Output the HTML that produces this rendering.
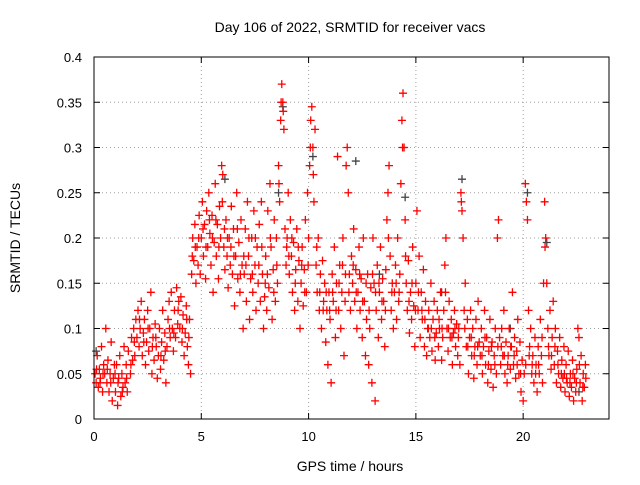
<!DOCTYPE html>
<html><head><meta charset="utf-8"><style>
body{margin:0;background:#fff}
svg{font-family:"Liberation Sans",sans-serif}
</style></head><body>
<svg id="chart" width="640" height="480" xmlns="http://www.w3.org/2000/svg">
<rect width="640" height="480" fill="#fff"/>
<g id="grid"></g>
<g id="ticks"></g>
<g id="grey"></g>
<g id="red"></g>
<rect x="94" y="57" width="515" height="362" fill="none" stroke="#000" stroke-width="1"/>
<text x="350" y="32" font-size="14" text-anchor="middle">Day 106 of 2022, SRMTID for receiver vacs</text>
<text x="350" y="471" font-size="14" text-anchor="middle">GPS time / hours</text>
<text x="0" y="0" font-size="14" text-anchor="middle" transform="translate(20,238) rotate(-90)">SRMTID / TECUs</text>
</svg>
<script>
const xTicks=[0,5,10,15,20];
const yTicks=[0,0.05,0.1,0.15,0.2,0.25,0.3,0.35,0.4];
const yTickLabels=["0","0.05","0.1","0.15","0.2","0.25","0.3","0.35","0.4"];
const redSeries=[
[0.05,.05],[0.1,.04],[0.15,.07],[0.2,.035],[0.25,.055],[0.3,.045],[0.35,.08],[0.4,.03],[0.45,.06],[0.5,.05],[0.55,.1],[0.6,.04],[0.65,.065],[0.7,.03],[0.75,.05],[0.8,.085],[0.85,.02],[0.9,.045],[0.95,.06],
[1.0,.03],[1.05,.06],[1.1,.015],[1.15,.045],[1.2,.07],[1.25,.025],[1.3,.05],[1.35,.035],[1.4,.08],[1.45,.04],[1.5,.06],[1.55,.03],[1.6,.075],[1.7,.05],[1.75,.09],[1.8,.065],[1.85,.1],[1.9,.07],[1.95,.11],
[2.0,.09],[2.05,.12],[2.1,.08],[2.15,.1],[2.2,.13],[2.25,.07],[2.3,.095],[2.35,.11],[2.4,.06],[2.45,.085],[2.5,.12],[2.55,.075],[2.6,.1],[2.65,.14],[2.7,.05],[2.75,.09],[2.8,.065],[2.85,.105],[2.9,.08],[2.95,.045],
[3.0,.07],[3.05,.1],[3.1,.055],[3.15,.085],[3.2,.12],[3.25,.065],[3.3,.095],[3.35,.04],[3.4,.08],[3.45,.11],[3.5,.13],[3.55,.09],[3.6,.14],[3.65,.1],[3.7,.075],[3.75,.12],[3.8,.09],[3.85,.145],[3.9,.105],[3.95,.13],
[4.0,.1],[4.05,.135],[4.1,.085],[4.15,.115],[4.2,.07],[4.25,.095],[4.3,.125],[4.35,.08],[4.4,.06],[4.45,.11],[4.5,.05],[4.55,.16],[4.6,.2],[4.65,.175],[4.7,.215],[4.75,.15],[4.8,.19],[4.85,.17],[4.9,.225],[4.95,.16],
[5.0,.2],[5.05,.24],[5.1,.18],[5.15,.215],[5.2,.155],[5.25,.23],[5.3,.19],[5.35,.25],[5.4,.205],[5.45,.17],[5.5,.225],[5.55,.14],[5.6,.195],[5.65,.26],[5.7,.18],[5.75,.215],[5.8,.155],[5.85,.235],[5.9,.2],[5.95,.28],
[6.0,.27],[6.05,.19],[6.1,.165],[6.15,.22],[6.2,.18],[6.25,.145],[6.3,.2],[6.35,.17],[6.4,.235],[6.45,.16],[6.5,.21],[6.55,.125],[6.6,.18],[6.65,.25],[6.7,.155],[6.75,.195],[6.8,.14],[6.85,.22],[6.9,.17],[6.95,.1],
[7.0,.16],[7.05,.21],[7.1,.13],[7.15,.24],[7.2,.18],[7.25,.11],[7.3,.155],[7.35,.2],[7.4,.14],[7.45,.23],[7.5,.17],[7.55,.12],[7.6,.19],[7.65,.15],[7.7,.215],[7.75,.13],[7.8,.24],[7.85,.16],[7.9,.1],[7.95,.135],
[8.0,.18],[8.05,.12],[8.1,.23],[8.15,.145],[8.2,.26],[8.25,.19],[8.3,.11],[8.35,.165],[8.4,.22],[8.45,.13],[8.5,.2],[8.55,.15],[8.6,.28],[8.65,.24],[8.7,.33],[8.75,.37],[8.8,.35],[8.85,.32],[8.9,.21],[8.95,.17],
[9.0,.2],[9.05,.25],[9.1,.16],[9.15,.22],[9.2,.18],[9.25,.14],[9.3,.195],[9.35,.12],[9.4,.165],[9.45,.21],[9.5,.13],[9.55,.175],[9.6,.1],[9.65,.15],[9.7,.19],[9.75,.125],[9.8,.165],[9.85,.22],[9.9,.14],[9.95,.25],
[10.0,.2],[10.05,.28],[10.1,.33],[10.15,.345],[10.2,.3],[10.25,.24],[10.3,.32],[10.35,.17],[10.4,.14],[10.45,.2],[10.5,.12],[10.55,.16],[10.6,.1],[10.65,.175],[10.7,.13],[10.75,.15],[10.8,.085],[10.85,.12],[10.9,.06],[10.95,.14],
[11.0,.11],[11.05,.04],[11.1,.16],[11.15,.13],[11.2,.19],[11.25,.09],[11.3,.15],[11.35,.29],[11.4,.12],[11.45,.17],[11.5,.1],[11.55,.14],[11.6,.2],[11.65,.07],[11.7,.13],[11.75,.28],[11.8,.3],[11.85,.25],[11.9,.16],[11.95,.12],
[12.0,.18],[12.05,.15],[12.1,.21],[12.15,.13],[12.2,.165],[12.25,.1],[12.3,.14],[12.35,.19],[12.4,.12],[12.45,.155],[12.5,.09],[12.55,.2],[12.6,.13],[12.65,.07],[12.7,.11],[12.75,.16],[12.8,.06],[12.85,.1],[12.9,.145],[12.95,.04],
[13.0,.2],[13.05,.15],[13.1,.02],[13.15,.12],[13.2,.17],[13.25,.09],[13.3,.14],[13.35,.19],[13.4,.11],[13.45,.155],[13.5,.13],[13.55,.08],[13.6,.165],[13.65,.22],[13.7,.25],[13.75,.28],[13.8,.18],[13.85,.12],[13.9,.15],[13.95,.1],
[14.0,.14],[14.05,.17],[14.1,.11],[14.15,.2],[14.2,.13],[14.25,.16],[14.3,.26],[14.35,.33],[14.4,.36],[14.45,.3],[14.5,.22],[14.55,.15],[14.6,.12],[14.65,.175],[14.7,.095],[14.75,.14],[14.8,.11],[14.85,.19],[14.9,.125],[14.95,.08],
[15.0,.15],[15.05,.23],[15.1,.12],[15.15,.18],[15.2,.09],[15.25,.14],[15.3,.11],[15.35,.165],[15.4,.08],[15.45,.13],[15.5,.07],[15.55,.1],[15.6,.12],[15.65,.09],[15.7,.15],[15.75,.075],[15.8,.11],[15.85,.13],[15.9,.065],[15.95,.095],
[16.0,.12],[16.05,.08],[16.1,.1],[16.15,.14],[16.2,.065],[16.25,.09],[16.3,.12],[16.35,.17],[16.4,.2],[16.45,.1],[16.5,.075],[16.55,.13],[16.6,.09],[16.65,.11],[16.7,.06],[16.75,.095],[16.8,.12],[16.85,.08],[16.9,.105],[16.95,.07],
[17.0,.1],[17.05,.06],[17.1,.25],[17.15,.23],[17.2,.2],[17.25,.12],[17.3,.15],[17.35,.08],[17.4,.11],[17.45,.05],[17.5,.09],[17.55,.12],[17.6,.07],[17.65,.1],[17.7,.045],[17.75,.08],[17.8,.11],[17.85,.06],[17.9,.13],[17.95,.085],
[18.0,.07],[18.05,.1],[18.1,.05],[18.15,.08],[18.2,.12],[18.25,.06],[18.3,.09],[18.35,.04],[18.4,.075],[18.45,.11],[18.5,.055],[18.55,.085],[18.6,.035],[18.65,.07],[18.7,.1],[18.75,.05],[18.8,.2],[18.85,.22],[18.9,.09],[18.95,.06],
[19.0,.1],[19.05,.07],[19.1,.12],[19.15,.05],[19.2,.085],[19.25,.04],[19.3,.07],[19.35,.1],[19.4,.055],[19.45,.08],[19.5,.14],[19.55,.06],[19.6,.09],[19.65,.045],[19.7,.075],[19.75,.11],[19.8,.05],[19.85,.085],[19.9,.03],[19.95,.065],
[20.0,.02],[20.05,.05],[20.1,.26],[20.15,.24],[20.2,.22],[20.25,.12],[20.3,.08],[20.35,.1],[20.4,.05],[20.45,.07],[20.5,.04],[20.55,.09],[20.6,.06],[20.65,.03],[20.7,.08],[20.75,.05],[20.8,.11],[20.85,.07],[20.9,.04],[20.95,.15],
[21.0,.24],[21.05,.2],[21.1,.15],[21.15,.1],[21.2,.07],[21.25,.12],[21.3,.055],[21.35,.09],[21.4,.13],[21.45,.06],[21.5,.1],[21.55,.04],[21.6,.075],[21.65,.05],[21.7,.09],[21.75,.035],[21.8,.065],[21.85,.045],[21.9,.08],[21.95,.03],
[22.0,.06],[22.05,.04],[22.1,.075],[22.15,.025],[22.2,.05],[22.25,.035],[22.3,.065],[22.35,.02],[22.4,.045],[22.45,.03],[22.5,.055],[22.55,.1],[22.6,.09],[22.65,.04],[22.7,.07],[22.75,.02],[22.8,.05],[22.85,.035],[22.9,.06]
];
const redExtra=[
[0.12,.055],[0.28,.04],[0.42,.05],[0.62,.055],[0.78,.04],[0.98,.05],[1.12,.04],[1.32,.03],[1.52,.045],[1.72,.06],[1.88,.085],
[2.12,.11],[2.32,.085],[2.52,.1],[2.72,.08],[2.88,.09],[3.12,.07],[3.32,.075],[3.52,.1],[3.72,.095],[3.92,.12],
[4.12,.1],[4.32,.11],[4.42,.09],[4.58,.18],[4.72,.19],[4.88,.2],[5.08,.21],[5.22,.19],[5.38,.22],[5.52,.2],[5.68,.22],[5.82,.19],[5.98,.24],
[6.08,.21],[6.22,.2],[6.38,.19],[6.52,.18],[6.68,.21],[6.82,.16],[6.98,.18],[7.08,.17],[7.22,.2],[7.38,.16],[7.52,.2],[7.68,.17],[7.82,.19],[7.98,.15],
[8.08,.16],[8.22,.2],[8.38,.14],[8.52,.17],[8.62,.26],[8.72,.35],[8.82,.34],[8.98,.19],[9.08,.18],[9.22,.2],[9.38,.15],[9.52,.19],[9.68,.17],[9.82,.14],[9.98,.17],
[10.08,.3],[10.22,.27],[10.38,.19],[10.52,.14],[10.68,.12],[10.82,.14],[10.98,.12],[11.12,.14],[11.28,.12],[11.42,.15],[11.58,.17],[11.72,.16],[11.88,.14],
[12.08,.17],[12.22,.14],[12.38,.16],[12.52,.13],[12.68,.15],[12.82,.12],[12.98,.16],[13.12,.14],[13.28,.15],[13.42,.13],[13.58,.12],[13.72,.2],[13.88,.14],
[14.08,.15],[14.22,.14],[14.38,.3],[14.52,.18],[14.68,.13],[14.82,.15],[14.98,.12],[15.12,.14],[15.28,.12],[15.42,.11],[15.58,.1],[15.72,.1],[15.88,.09],
[16.08,.11],[16.22,.1],[16.38,.14],[16.52,.1],[16.68,.09],[16.82,.1],[16.98,.09],[17.12,.24],[17.28,.1],[17.42,.08],[17.58,.09],[17.72,.07],[17.88,.08],
[18.08,.07],[18.22,.09],[18.38,.06],[18.52,.08],[18.68,.06],[18.82,.08],[18.98,.08],[19.12,.07],[19.28,.06],[19.42,.08],[19.58,.07],[19.72,.06],[19.88,.05],
[20.12,.06],[20.28,.07],[20.42,.06],[20.58,.05],[20.72,.06],[20.88,.09],[21.02,.19],[21.18,.08],[21.32,.07],[21.48,.08],[21.62,.06],[21.78,.05],[21.92,.05],
[22.02,.045],[22.18,.04],[22.32,.05],[22.48,.04],[22.62,.06],[22.78,.035],[22.92,.045]
];
const greySeries=[[8.8,.345],[10.2,.29],[14.5,.245],[17.15,.265],[20.2,.25],[12.2,.285],[6.1,.265],[8.6,.25],[21.1,.195],[19.4,.1],[16.2,.14],[0.1,.075],[13.3,.16],[22.6,.03]];
const X0=94,X1=609,Y0=419,Y1=57,XMAX=24,YMAX=0.4;
function sx(v){return X0+(X1-X0)*v/XMAX;}
function sy(v){return Y0-(Y0-Y1)*v/YMAX;}
const NS="http://www.w3.org/2000/svg";
function mk(tag,attrs,parent){const e=document.createElementNS(NS,tag);for(const k in attrs)e.setAttribute(k,attrs[k]);parent.appendChild(e);return e;}
const grid=document.getElementById('grid'),ticks=document.getElementById('ticks');
xTicks.forEach(t=>{const x=sx(t);
 if(t>0){const g=mk('line',{x1:x,x2:x,y1:Y0,y2:Y1,stroke:'#a0a0a0','stroke-dasharray':'1,3'},grid);}
 const l=mk('text',{x:x,y:Y0+22,'font-size':13,'text-anchor':'middle'},ticks);l.textContent=t;
 
 
 mk('line',{x1:x,x2:x,y1:Y0,y2:Y0-6,stroke:'#000'},ticks);mk('line',{x1:x,x2:x,y1:Y1,y2:Y1+6,stroke:'#000'},ticks);
});
yTicks.forEach((t,i)=>{const y=sy(t);
 if(t>0&&t<YMAX){const g=mk('line',{x1:X0,x2:X1,y1:y,y2:y,stroke:'#a0a0a0','stroke-dasharray':'1,3'},grid);}
 const l=mk('text',{x:X0-12,y:y+5,'font-size':13,'text-anchor':'end'},ticks);l.textContent=yTickLabels[i];
 
 
 mk('line',{x1:X0,x2:X0+6,y1:y,y2:y,stroke:'#000'},ticks);mk('line',{x1:X1,x2:X1-6,y1:y,y2:y,stroke:'#000'},ticks);
});
function plus(p,col,parent){const x=sx(p[0]),y=sy(p[1]);
 const e=mk('path',{d:`M${x-4},${y}h8M${x},${y-4}v8`,stroke:col,'stroke-width':1.3,fill:'none'},parent);
 
 
}
const gG=document.getElementById('grey'),gR=document.getElementById('red');
greySeries.forEach(p=>plus(p,'#444',gG));
redSeries.forEach(p=>plus(p,'#ff0000',gR));
redExtra.forEach(p=>plus(p,'#ff0000',gR));
</script>
</body></html>
